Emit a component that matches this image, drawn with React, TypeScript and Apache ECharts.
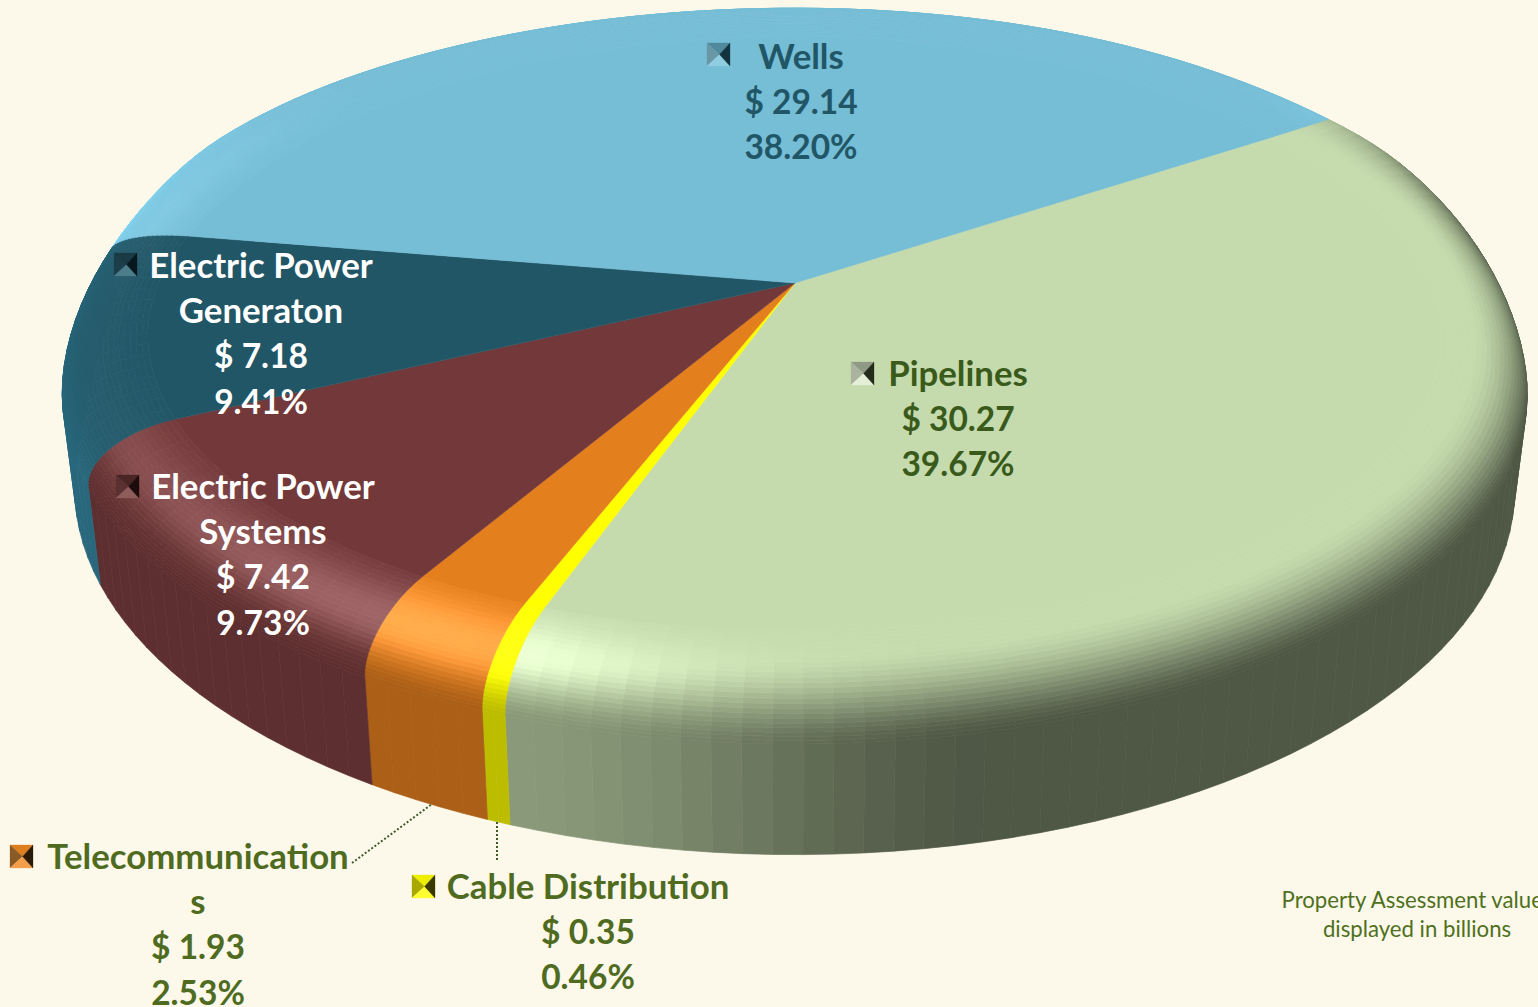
import React, { useEffect, useRef } from "react";
import * as echarts from "echarts";

const NAMES = ["Pipelines", "Cable Distribution", "Telecommunications", "Electric Power Systems", "Electric Power Generaton", "Wells"];
const NAME_LINES = [["Pipelines"], ["Cable Distribution"], ["Telecommunication", "s"], ["Electric Power", "Systems"], ["Electric Power", "Generaton"], ["Wells"]];
const DOLLARS = ["$ 30.27", "$ 0.35", "$ 1.93", "$ 7.42", "$ 7.18", "$ 29.14"];
const PERCENTS = [39.67, 0.46, 2.53, 9.73, 9.41, 38.2];
const PERCENT_LABELS = ["39.67%", "0.46%", "2.53%", "9.73%", "9.41%", "38.20%"];
const NOTE_LINES = ["Property Assessment values", "displayed in billions"];

const BASE = [[197, 219, 173], [255, 255, 0], [228, 127, 30], [115, 57, 58], [33, 86, 103], [118, 189, 214]];
const WALL_FACTOR = [0.7, 0.74, 0.75, 0.82, 1.2, 1.15];
const HILITE = [1, 0.5, 1, 1, 0.3, 0.5];
const LABEL_X = [958, 588, 198, 263, 261, 801];
const LABEL_Y = [372, 885, 855, 485, 264, 55];
const LABEL_FILL = ["#3a5a1c", "#4f6b1f", "#4f6b1f", "#ffffff", "#ffffff", "#215667"];
const KEY_POS = [[851, 362], [412, 875], [10, 845], [116, 475], [114, 253], [707, 43]];
const KEY_COLORS = [
  ["#8f9a86", "#a9b39f", "#e4efd8", "#232b1a"],
  ["#eeee00", "#a8a800", "#ffff30", "#3a3a00"],
  ["#de7f1f", "#8a5a25", "#f29e4a", "#2b1a08"],
  ["#4a2526", "#5a3031", "#8f5c5c", "#1c0c0c"],
  ["#1a3a45", "#1c3e4a", "#4d7c8b", "#08181f"],
  ["#4f8a9c", "#6a97a6", "#90cde0", "#13333e"],
];
const LEADERS: (number[] | null)[] = [null, [497, 822, 497, 862], [352, 863, 432, 804], null, null, null];

const CX = 795, CY = 283, A = 725, B = 328, K = 0.1935, T = 133;
const START = -33.5, RHO0 = 0.88, BEVEL_H = 0.33, STRIPS = 24, STEP = 2;
const FONT = "Lato";

const clamp = (a: number) => Math.min(1, Math.max(0, a));
const smooth = (a: number, b: number, x: number) => {
  const t = clamp((x - a) / (b - a));
  return t * t * (3 - 2 * t);
};
const rad = (d: number) => (d * Math.PI) / 180;
const wrap = (d: number) => ((((d % 360) + 540) % 360) + 360) % 360 - 180;
const bell = (d: number, c: number, s: number) => {
  const e = wrap(d - c);
  return Math.exp(-(e * e) / (2 * s * s));
};

function project(rho: number, deg0: number, h: number) {
  const deg = deg0 - 1.0 * bell(deg0, 155, 20) + 0.9 * bell(deg0, 190, 10);
  const th = rad(deg);
  const u = rho * Math.cos(th), v = rho * Math.sin(th);
  const d = 1 - K * v;
  const s = smooth(-0.5, 0.15, Math.sin(th));
  const pinch = rho * rho * (-13 * bell(deg, -35, 20) + 8 * bell(deg, 200, 12));
  return [CX + ((A * u) / d) * (1 - 0.025 * h * s) + pinch, CY + (B * v + T * h * s) / d];
}

function shade(i: number, deg: number, p: number, x: number) {
  const base = BASE[i];
  const sin = Math.sin(rad(deg));
  const w = smooth(-0.75, -0.1, sin);
  let f = WALL_FACTOR[i];
  if (i === 0) f = 0.7 - 0.3 * smooth(510, 1000, x);
  const sigma = x < 440 ? 250 : 170;
  const gauss = Math.exp(-((x - 440) * (x - 440)) / (2 * sigma * sigma));
  const hs = gauss * HILITE[i];
  const bump = 46 * hs * Math.exp(-((p - 0.42) * (p - 0.42)) / (2 * 0.2 * 0.2));
  const toWall = smooth(0.2 + 0.32 * gauss, 1, p);
  const c = base.map((b) => {
    const lit = b + bump;
    const shaded = lit + (b * f - lit) * toWall;
    return Math.min(255, Math.max(0, Math.round(b + (shaded - b) * w)));
  });
  return `rgb(${c[0]},${c[1]},${c[2]})`;
}

function renderSlice(params: any, api: any) {
  const i = params.dataIndex;
  const value = api.value(0);
  const before = PERCENTS.slice(0, i).reduce((a, b) => a + b, 0);
  const total = PERCENTS.reduce((a, b) => a + b, 0);
  const a0 = START + (before / total) * 360;
  const a1 = a0 + (value / total) * 360;
  const n = Math.max(2, Math.ceil((a1 - a0) / STEP));
  const angle = (j: number) => a0 + ((a1 - a0) * j) / n;
  const children: any[] = [];
  const prof = (p: number) => {
    const ph = (p * Math.PI) / 2;
    return [RHO0 + (1 - RHO0) * Math.sin(ph), BEVEL_H * (1 - Math.cos(ph))];
  };
  for (let j = 0; j < n; j++) {
    const d0 = angle(j), d1 = angle(j + 1), mid = (d0 + d1) / 2;
    const wp = [project(1, d0, BEVEL_H), project(1, d1, BEVEL_H), project(1, d1, 1), project(1, d0, 1)];
    const wc = shade(i, mid, 1, (wp[0][0] + wp[1][0]) / 2);
    children.push({ type: "polygon", z2: 1, shape: { points: wp }, style: { fill: wc, stroke: wc, lineWidth: 0.7 } });
    for (let s = STRIPS - 1; s >= 0; s--) {
      const p0 = s / STRIPS, p1 = (s + 1) / STRIPS;
      const [r0, h0] = prof(p0), [r1, h1] = prof(p1);
      const pts = [project(r0, d0, h0), project(r0, d1, h0), project(r1, d1, h1), project(r1, d0, h1)];
      const c = shade(i, mid, (p0 + p1) / 2, (pts[0][0] + pts[1][0] + pts[2][0] + pts[3][0]) / 4);
      children.push({ type: "polygon", z2: 2 + STRIPS - s, shape: { points: pts }, style: { fill: c, stroke: c, lineWidth: 0.7 } });
    }
  }
  const top = [[CX, CY]];
  for (let j = 0; j <= n; j++) top.push(project(RHO0, angle(j), 0));
  const tc = `rgb(${BASE[i].join(",")})`;
  children.push({ type: "polygon", z2: 40, shape: { points: top }, style: { fill: tc, stroke: tc, lineWidth: 0.5 } });
  return { type: "group", children };
}

function renderLabel(params: any) {
  const i = params.dataIndex;
  const children: any[] = [];
  const nameCount = NAME_LINES[i].length;
  const lines = [...NAME_LINES[i], DOLLARS[i], PERCENT_LABELS[i]];
  lines.forEach((t, k) => {
    children.push({
      type: "text", z2: 60,
      style: { text: t, x: LABEL_X[i], y: LABEL_Y[i] + k * 45.5, fill: LABEL_FILL[i], fontFamily: FONT, fontWeight: 700, fontSize: k < nameCount ? 34.8 : 33.5, align: "center", verticalAlign: "middle" },
    });
  });
  const [kx, ky] = KEY_POS[i];
  const S = 23, mx = kx + 12.5, my = ky + 11.5;
  const kc = KEY_COLORS[i];
  const tris = [
    [[kx, ky], [kx + S, ky], [mx, my]],
    [[kx, ky], [kx, ky + S], [mx, my]],
    [[kx, ky + S], [kx + S, ky + S], [mx, my]],
    [[kx + S, ky], [kx + S, ky + S], [mx, my]],
  ];
  tris.forEach((pts, k) => children.push({ type: "polygon", z2: 60, shape: { points: pts }, style: { fill: kc[k], stroke: kc[k], lineWidth: 0.3 } }));
  const l = LEADERS[i];
  if (l) children.push({ type: "line", z2: 60, shape: { x1: l[0], y1: l[1], x2: l[2], y2: l[3] }, style: { stroke: "#3f5a2a", lineWidth: 2, lineDash: [2, 2] } });
  return { type: "group", children };
}

export default function App() {
  const ref = useRef<HTMLDivElement>(null);
  useEffect(() => {
    document.body.style.margin = "0";
    const chart = echarts.init(ref.current!, undefined, { renderer: "svg" });
    chart.setOption({
      animation: false,
      backgroundColor: "#fcf8ea",
      series: [
        { type: "custom", name: "Property Assessment", coordinateSystem: "none", silent: true, clip: false, z: 2, renderItem: renderSlice, data: PERCENTS.map((v, i) => ({ name: NAMES[i], value: [v] })) },
        { type: "custom", name: "Labels", coordinateSystem: "none", silent: true, clip: false, z: 5, renderItem: renderLabel, data: PERCENTS.map((v, i) => ({ name: NAMES[i], value: [v] })) },
      ],
      graphic: NOTE_LINES.map((t, k) => ({
        type: "text", z: 10, silent: true,
        style: { text: t, x: 1417, y: 899 + k * 29, fill: "#4f7020", fontFamily: FONT, fontSize: 22.2, align: "center", verticalAlign: "middle" },
      })),
    });
    return () => chart.dispose();
  }, []);
  return <div ref={ref} style={{ position: "absolute", left: 0, top: 0, width: 1538, height: 1007 }} />;
}
